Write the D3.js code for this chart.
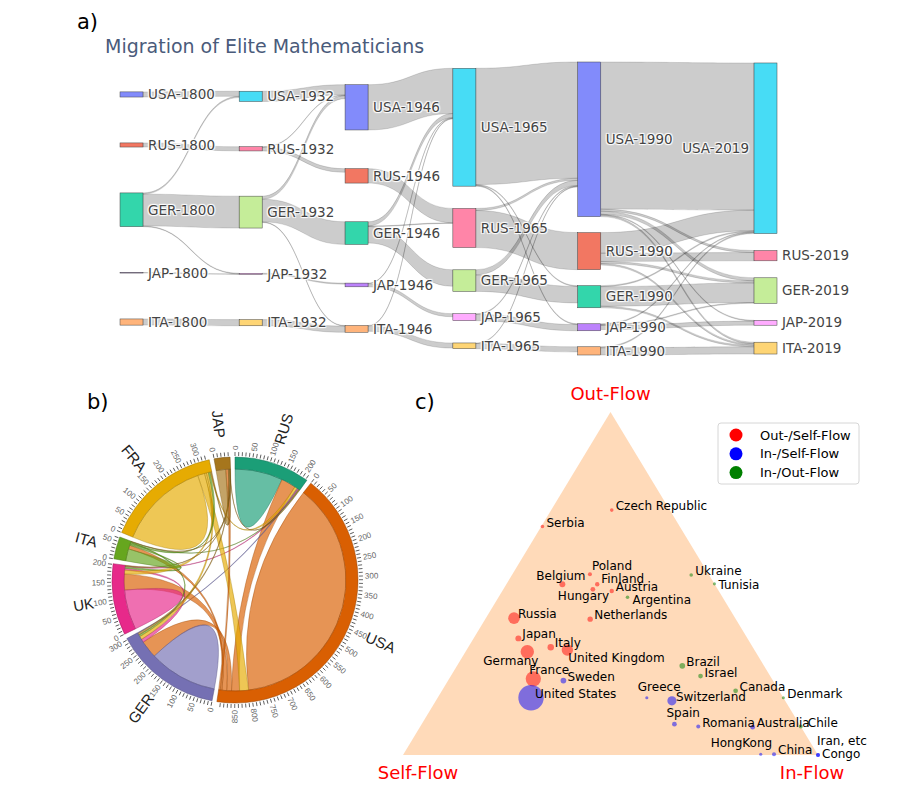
<!DOCTYPE html>
<html>
<head>
<meta charset="utf-8">
<script src="https://cdn.jsdelivr.net/npm/d3@7"></script>
<style>
  body { margin: 0; background: #fff; }
  .node-label { text-shadow: 1px 1px 1px #fff, -1px -1px 1px #fff, 1px -1px 1px #fff, -1px 1px 1px #fff; }
</style>
</head>
<body>
<svg id="fig" width="923" height="794"></svg>
<script>
// ---------------- data: panel a (sankey) ----------------
const countries = ["USA", "RUS", "GER", "JAP", "ITA"];
const years = ["1800", "1932", "1946", "1965", "1990", "2019"];

// [from, to, mathematicians] between two consecutive snapshots
const flows1800 = [
  ["USA", "USA", 5], ["RUS", "RUS", 4], ["GER", "USA", 1.2], ["GER", "GER", 31],
  ["GER", "JAP", 0.6], ["JAP", "JAP", 0.5], ["ITA", "ITA", 6]
];
const flows1932 = [
  ["USA", "USA", 10], ["RUS", "USA", 0.6], ["RUS", "RUS", 3.5], ["GER", "USA", 3],
  ["GER", "GER", 22], ["GER", "ITA", 0.6], ["JAP", "JAP", 1], ["ITA", "ITA", 6]
];
const flows1946 = [
  ["USA", "USA", 44], ["RUS", "RUS", 14], ["GER", "USA", 4], ["GER", "RUS", 0.6],
  ["GER", "GER", 16], ["JAP", "USA", 0.6], ["JAP", "JAP", 3], ["ITA", "USA", 0.6], ["ITA", "ITA", 5]
];
const flows1965 = [
  ["USA", "USA", 113], ["USA", "GER", 0.8], ["USA", "JAP", 0.8], ["RUS", "USA", 2],
  ["RUS", "RUS", 36], ["GER", "USA", 5], ["GER", "GER", 16], ["JAP", "USA", 0.8],
  ["JAP", "JAP", 6], ["ITA", "USA", 0.6], ["ITA", "ITA", 5]
];
const flows1990 = [
  ["USA", "USA", 143], ["USA", "RUS", 2], ["USA", "GER", 3], ["USA", "JAP", 0.8], ["USA", "ITA", 1.5],
  ["RUS", "USA", 20], ["RUS", "RUS", 8], ["RUS", "GER", 2], ["RUS", "ITA", 1.5],
  ["GER", "USA", 1], ["GER", "GER", 19], ["GER", "ITA", 1.5],
  ["JAP", "USA", 0.8], ["JAP", "GER", 0.8], ["JAP", "JAP", 4],
  ["ITA", "USA", 1], ["ITA", "ITA", 7]
];
const periodFlows = [flows1800, flows1932, flows1946, flows1965, flows1990];

// ---------------- data: panel b (chord) ----------------
const chordNames = ["RUS", "USA", "GER", "UK", "ITA", "FRA", "JAP"];
const chordMatrix = [
  [150, 46, 3, 3, 2, 8, 2],
  [25, 807, 15, 15, 5, 28, 5],
  [2, 55, 215, 10, 6, 10, 6],
  [2, 50, 6, 125, 5, 12, 2],
  [1, 12, 3, 4, 38, 4, 1],
  [3, 22, 6, 6, 5, 285, 3],
  [1, 8, 2, 1, 1, 2, 30]
];

// ---------------- data: panel c (ternary) ----------------
const ternNames = ["Czech Republic", "Serbia", "Poland", "Belgium", "Finland", "Hungary", "Austria",
  "Argentina", "Russia", "Netherlands", "Japan", "Italy", "United Kingdom", "Germany", "France",
  "Sweden", "United States", "Greece", "Switzerland", "Spain", "Ukraine", "Tunisia", "Brazil",
  "Israel", "Canada", "Denmark", "Romania", "Australia", "Chile", "HongKong", "China", "Congo", "Iran, etc"];
const outShare = [0.714, 0.666, 0.527, 0.498, 0.498, 0.483, 0.478, 0.460, 0.399, 0.396, 0.340, 0.314,
  0.306, 0.301, 0.222, 0.217, 0.167, 0.167, 0.158, 0.090, 0.525, 0.499, 0.260, 0.230, 0.187, 0.167,
  0.083, 0.081, 0.083, 0.002, 0.002, 0.0, 0.0];
const inShare = [0.146, 0.003, 0.187, 0.135, 0.219, 0.216, 0.264, 0.311, 0.068, 0.253, 0.108, 0.199,
  0.243, 0.149, 0.203, 0.278, 0.225, 0.504, 0.569, 0.609, 0.432, 0.501, 0.543, 0.602, 0.708, 0.833,
  0.670, 0.802, 0.917, 0.861, 0.893, 1.0, 1.0];
const mathCount = [4, 4, 5, 11, 6, 7, 6, 4, 42, 9, 11, 13, 40, 56, 72, 10, 200, 3, 26, 7, 4, 3, 10, 7, 7,
  3, 5, 7, 5, 3, 5, 5, 5];
const flowType = ["os", "os", "os", "os", "os", "os", "os", "io", "os", "os", "os", "os", "os", "os", "os",
  "is", "is", "is", "is", "is", "io", "io", "io", "io", "io", "io", "is", "is", "io", "is", "is", "is", "is"];
const legendLabels = ["Out-/Self-Flow", "In-/Self-Flow", "In-/Out-Flow"];

// label nudges (text offset from its marker) to avoid overlaps
const labelNudge = {
  "Poland": [2, -4], "Belgium": [-26, -4], "Finland": [4, -1], "Hungary": [-35, 11],
  "Argentina": [5, 7], "United Kingdom": [1, 12], "Germany": [-44, 13], "France": [-4, -5],
  "Greece": [-9, -7], "Tunisia": [4, 5], "Spain": [-8, -7], "HongKong": [-50, -7],
  "Israel": [4, 1], "Chile": [7, 0], "Congo": [4, 3], "Iran, etc": [-1, -10]
};

const svg = d3.select("#fig");

// panel letters
[["a)", 77, 29], ["b)", 87, 409], ["c)", 415, 409]].forEach(p => {
  svg.append("text").attr("x", p[1]).attr("y", p[2])
    .style("font-family", "DejaVu Sans").style("font-size", "21px").attr("fill", "#000").text(p[0]);
});

// =============== panel a: sankey ===============
const plotlyColors = ["#636efa", "#EF553B", "#00cc96", "#ab63fa", "#FFA15A",
  "#19d3f3", "#FF6692", "#B6E880", "#FF97FF", "#FECB52"];

const nodes = [];
years.forEach((yr, yi) => countries.forEach((c, ci) => {
  nodes.push({ id: c + "-" + yr, layer: yi, color: plotlyColors[(yi * countries.length + ci) % 10] });
}));
const links = [];
periodFlows.forEach((flows, pi) => flows.forEach(f => {
  links.push({ source: f[0] + "-" + years[pi], target: f[1] + "-" + years[pi + 1], value: f[2] });
}));

// sankey layout: node height from the flows, every column spread evenly over the full height
function sankeyLayout(nodes, links, o) {
  const byId = new Map(nodes.map(n => [n.id, n]));
  nodes.forEach(n => { n.sourceLinks = []; n.targetLinks = []; });
  links.forEach((l, i) => {
    l.index = i;
    l.source = byId.get(l.source); l.target = byId.get(l.target);
    l.source.sourceLinks.push(l); l.target.targetLinks.push(l);
  });
  nodes.forEach(n => {
    n.value = Math.max(d3.sum(n.sourceLinks, l => l.value), d3.sum(n.targetLinks, l => l.value));
  });
  const nLayers = d3.max(nodes, n => n.layer) + 1;
  const xs = d3.scaleLinear().domain([0, 1]).range([o.x0, o.x1 - o.nodeWidth]);
  nodes.forEach(n => { n.x0 = xs(o.columnPos[n.layer]); n.x1 = n.x0 + o.nodeWidth; });
  const columns = d3.range(nLayers).map(k => nodes.filter(n => n.layer === k));

  const ky = d3.min(columns, c => (o.y1 - o.y0 - (c.length - 1) * o.pad) / d3.sum(c, n => n.value));
  links.forEach(l => { l.width = l.value * ky; });
  columns.forEach(c => {
    let y = o.y0;
    c.forEach(n => { n.y0 = y; n.y1 = y + n.value * ky; y = n.y1 + o.pad; });
    const extra = (o.y1 - y + o.pad) / (c.length + 1);
    c.forEach((n, i) => { n.y0 += extra * (i + 1); n.y1 += extra * (i + 1); });
  });

  const bySource = (a, b) => (a.source.y0 - b.source.y0) || a.index - b.index;
  const byTarget = (a, b) => (a.target.y0 - b.target.y0) || a.index - b.index;
  nodes.forEach(n => {
    n.sourceLinks.sort(byTarget);
    n.targetLinks.sort(bySource);
    let a = n.y0, b = n.y0;
    n.sourceLinks.forEach(l => { l.y0 = a + l.width / 2; a += l.width; });
    n.targetLinks.forEach(l => { l.y1 = b + l.width / 2; b += l.width; });
  });
}

sankeyLayout(nodes, links, {
  x0: 120, x1: 777, y0: 62, y1: 355, nodeWidth: 23, pad: 16,
  columnPos: [0, 0.188, 0.355, 0.525, 0.722, 1]   // node.x arrangement of the columns
});

function linkPath(d) {
  const x0 = d.source.x1, x1 = d.target.x0, xm = d3.interpolateNumber(x0, x1)(0.5);
  const y0a = d.y0 - d.width / 2, y0b = d.y0 + d.width / 2;
  const y1a = d.y1 - d.width / 2, y1b = d.y1 + d.width / 2;
  return `M${x0},${y0a}C${xm},${y0a} ${xm},${y1a} ${x1},${y1a}L${x1},${y1b}C${xm},${y1b} ${xm},${y0b} ${x0},${y0b}Z`;
}

const sankeyG = svg.append("g");
sankeyG.append("text").attr("x", 105).attr("y", 53)
  .style("font-family", "DejaVu Sans").style("font-size", "19px")
  .attr("fill", "#4a5b7b").text("Migration of Elite Mathematicians");

sankeyG.append("g").selectAll("path").data(links).join("path")
  .attr("d", linkPath)
  .attr("fill", "rgba(0,0,0,0.2)")
  .attr("stroke", "rgba(0,0,0,0.22)")
  .attr("stroke-width", 0.6);

sankeyG.append("g").selectAll("rect").data(nodes).join("rect")
  .attr("x", d => d.x0).attr("y", d => d.y0)
  .attr("width", d => d.x1 - d.x0).attr("height", d => Math.max(0.5, d.y1 - d.y0))
  .attr("fill", d => d.color).attr("fill-opacity", 0.8)
  .attr("stroke", "#444").attr("stroke-width", 0.5);

const lastLayer = years.length - 1;
const labelLeft = d => d.layer === lastLayer && d.value > 100;
sankeyG.append("g").selectAll("text").data(nodes).join("text")
  .attr("class", "node-label")
  .attr("x", d => labelLeft(d) ? d.x0 - 5 : d.x1 + 5)
  .attr("y", d => (d.y0 + d.y1) / 2)
  .attr("dy", "0.35em")
  .attr("text-anchor", d => labelLeft(d) ? "end" : "start")
  .style("font-family", "DejaVu Sans").style("font-size", "13.5px")
  .attr("fill", "#444")
  .text(d => d.id);

// =============== panel b: chord ===============
const cx = 235, cy = 580, outerR = 123, innerR = 111;
const chordColor = d3.scaleOrdinal().domain(d3.range(chordNames.length)).range(d3.schemeDark2);
const chords = d3.chord().padAngle(0.04).sortSubgroups(d3.descending)(chordMatrix);
const chordG = svg.append("g").attr("transform", `translate(${cx},${cy})`);

chordG.append("g").selectAll("path").data(chords).join("path")
  .attr("d", d3.ribbon().radius(innerR))
  .attr("fill", d => chordColor(d.target.index))
  .attr("fill-opacity", 0.67)
  .attr("stroke", d => d3.rgb(chordColor(d.target.index)).darker())
  .attr("stroke-opacity", 0.6)
  .attr("stroke-width", 0.6);

const groupG = chordG.append("g").selectAll("g").data(chords.groups).join("g");
groupG.append("path")
  .attr("d", d3.arc().innerRadius(innerR).outerRadius(outerR))
  .attr("fill", d => chordColor(d.index))
  .attr("stroke", d => d3.rgb(chordColor(d.index)).darker())
  .attr("stroke-width", 0.5);

function groupTicks(d) {
  const k = (d.endAngle - d.startAngle) / d.value;
  return d3.range(0, d.value, 10).map(v => ({ value: v, angle: d.startAngle + v * k }));
}

const tick = groupG.selectAll("g.tick").data(groupTicks).join("g")
  .attr("class", "tick")
  .attr("transform", d => `rotate(${d.angle * 180 / Math.PI - 90}) translate(${outerR + 1},0)`);
tick.append("line").attr("x2", 4).attr("stroke", "#444").attr("stroke-width", 0.8);
tick.filter(d => d.value % 50 === 0).append("text")
  .attr("x", d => d.angle > Math.PI ? -6 : 6)
  .attr("dy", "0.35em")
  .attr("transform", d => d.angle > Math.PI ? "rotate(180)" : null)
  .attr("text-anchor", d => d.angle > Math.PI ? "end" : "start")
  .style("font-family", "Liberation Sans").style("font-size", "8px")
  .attr("fill", "#666")
  .text(d => d.value);

groupG.append("text")
  .each(d => { d.mid = (d.startAngle + d.endAngle) / 2; })
  .attr("transform", d => `rotate(${d.mid * 180 / Math.PI - 90}) translate(143,0)` + (d.mid > Math.PI ? " rotate(180)" : ""))
  .attr("dy", "0.35em")
  .attr("text-anchor", d => d.mid > Math.PI ? "end" : "start")
  .style("font-family", "Liberation Sans").style("font-size", "15px")
  .attr("fill", "#222")
  .text(d => chordNames[d.index]);

// =============== panel c: ternary ===============
const tx = d3.scaleLinear().domain([0, 1]).range([403, 818]);
const ty = d3.scaleLinear().domain([0, 1]).range([755, 412]);
const ternX = (o, i) => tx(i + o / 2);
const ternY = o => ty(o);
const rScale = d3.scaleSqrt().domain([0, 200]).range([0, 12.7]);
const typeColor = d3.scaleOrdinal().domain(["os", "is", "io"]).range(["#ff0000", "#0000ff", "#008000"]);

const ternG = svg.append("g");
const corners = [[1, 0], [0, 0], [0, 1]];
ternG.append("path")
  .attr("d", d3.line()(corners.map(c => [ternX(c[0], c[1]), ternY(c[0])])) + "Z")
  .attr("fill", "#ffdab9");

const ternData = ternNames.map((n, i) => ({
  name: n, out: outShare[i], inn: inShare[i], self: 1 - outShare[i] - inShare[i],
  count: mathCount[i], type: flowType[i]
}));

ternG.append("g").selectAll("circle").data(ternData).join("circle")
  .attr("cx", d => ternX(d.out, d.inn)).attr("cy", d => ternY(d.out))
  .attr("r", d => rScale(d.count))
  .attr("fill", d => typeColor(d.type)).attr("fill-opacity", 0.5);

ternG.append("g").selectAll("text").data(ternData).join("text")
  .attr("x", d => ternX(d.out, d.inn) + (labelNudge[d.name] || [4, 0])[0])
  .attr("y", d => ternY(d.out) + (labelNudge[d.name] || [4, 0])[1])
  .style("font-family", "DejaVu Sans").style("font-size", "12px")
  .attr("fill", "#000")
  .text(d => d.name);

// corner titles
const cornerTitles = [["Out-Flow", ternX(1, 0), ternY(1) - 12],
  ["Self-Flow", ternX(0, 0) + 15, ternY(0) + 24],
  ["In-Flow", ternX(0, 1) - 6, ternY(0) + 24]];
ternG.selectAll("text.corner").data(cornerTitles).join("text")
  .attr("class", "corner")
  .attr("x", d => d[1]).attr("y", d => d[2])
  .attr("text-anchor", "middle")
  .style("font-family", "DejaVu Sans").style("font-size", "18px")
  .attr("fill", "#ff0000")
  .text(d => d[0]);

// legend
const legend = ternG.append("g").attr("transform", "translate(718,423)");
legend.append("rect").attr("width", 141).attr("height", 61).attr("rx", 3)
  .attr("fill", "#fff").attr("stroke", "#d6d6d6");
const legRow = legend.selectAll("g.row").data(typeColor.domain()).join("g")
  .attr("class", "row")
  .attr("transform", (d, i) => `translate(0,${12 + i * 18.8})`);
legRow.append("circle").attr("cx", 18).attr("r", 6.5).attr("fill", d => typeColor(d));
legRow.append("text").attr("x", 42).attr("dy", "0.35em")
  .style("font-family", "DejaVu Sans").style("font-size", "13px").attr("fill", "#000")
  .text((d, i) => legendLabels[i]);
</script>
</body>
</html>
